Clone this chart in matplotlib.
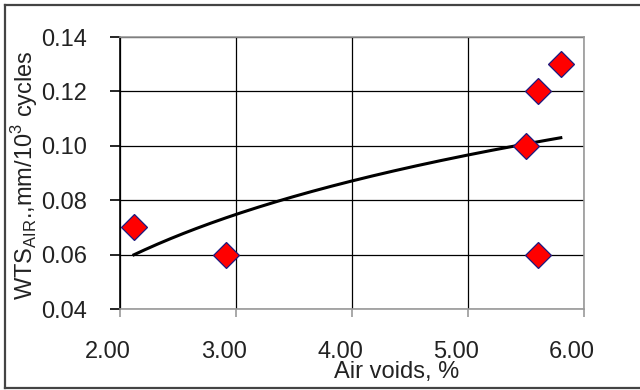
import numpy as np
import matplotlib
matplotlib.use("Agg")
import matplotlib.pyplot as plt
import matplotlib.transforms as mtransforms
from matplotlib.lines import Line2D

air_voids = [2.12, 2.91, 5.50, 5.60, 5.60, 5.80]
wts_air = [0.07, 0.06, 0.10, 0.12, 0.06, 0.13]
x_ticks = [2.0, 3.0, 4.0, 5.0, 6.0]
y_ticks = [0.04, 0.06, 0.08, 0.10, 0.12, 0.14]

plt.rcParams['font.family'] = ['Liberation Sans', 'DejaVu Sans']

W, H = 640, 390
fig = plt.figure(figsize=(W / 100, H / 100), dpi=100)
ax = fig.add_axes([120 / W, 1 - 309 / H, (584 - 120) / W, (309 - 37) / H])

# logarithmic trendline fitted to the data
b, a = np.polyfit(np.log(air_voids), wts_air, 1)
xt = np.linspace(min(air_voids), max(air_voids), 200)
ax.plot(xt, a + b * np.log(xt), color='black', lw=2.2, zorder=3)

ax.plot(air_voids, wts_air, linestyle='none', marker='D', markersize=13.5,
        markerfacecolor='#ff0000', markeredgecolor='#1a1a80', markeredgewidth=0.9,
        zorder=4, clip_on=False)

ax.set_xlim(2, 6)
ax.set_ylim(0.04, 0.14)
ax.set_xticks(x_ticks)
ax.set_yticks(y_ticks)
ax.set_xticklabels([f"{v:.2f}" for v in x_ticks])
ax.set_yticklabels([f"{v:.2f}" for v in y_ticks])
ax.grid(True, color='black', lw=0.9, zorder=1)
ax.set_axisbelow(True)

for s in ['top', 'right', 'bottom']:
    ax.spines[s].set_color('#999999')
    ax.spines[s].set_linewidth(1.2)
ax.spines['left'].set_color('black')
ax.spines['left'].set_linewidth(1.2)

ax.tick_params(axis='y', direction='out', length=7, width=1.2, color='black',
               labelsize=17, pad=17, labelcolor='#222222')
ax.tick_params(axis='x', direction='out', length=6, width=1.2, color='#999999',
               labelsize=17, pad=17, labelcolor='#222222')

offset = mtransforms.ScaledTranslation(-12 / 100, 0, fig.dpi_scale_trans)
for lab in ax.get_xticklabels():
    lab.set_transform(lab.get_transform() + offset)

fig.text(397 / W, 1 - 372 / H, "Air voids, %", ha='center', va='center',
         fontsize=17, color='#222222')
fig.text(25 / W, 1 - 175 / H, r"WTS$_{\mathregular{AIR}}$.,mm/10$^{\mathregular{3}}$ cycles",
         ha='center', va='center', rotation=90, fontsize=17, color='#222222')

# figure border
bc = '#444444'
fig.add_artist(Line2D([5 / W, 5 / W], [1 - 5 / H, 1 - 388 / H], color=bc, lw=1.6,
                      transform=fig.transFigure))
fig.add_artist(Line2D([5 / W, 1.0], [1 - 5 / H, 1 - 5 / H], color=bc, lw=1.6,
                      transform=fig.transFigure))
fig.add_artist(Line2D([5 / W, 1.0], [1 - 388 / H, 1 - 388 / H], color=bc, lw=1.6,
                      transform=fig.transFigure))

fig.savefig("out.png", dpi=100)
